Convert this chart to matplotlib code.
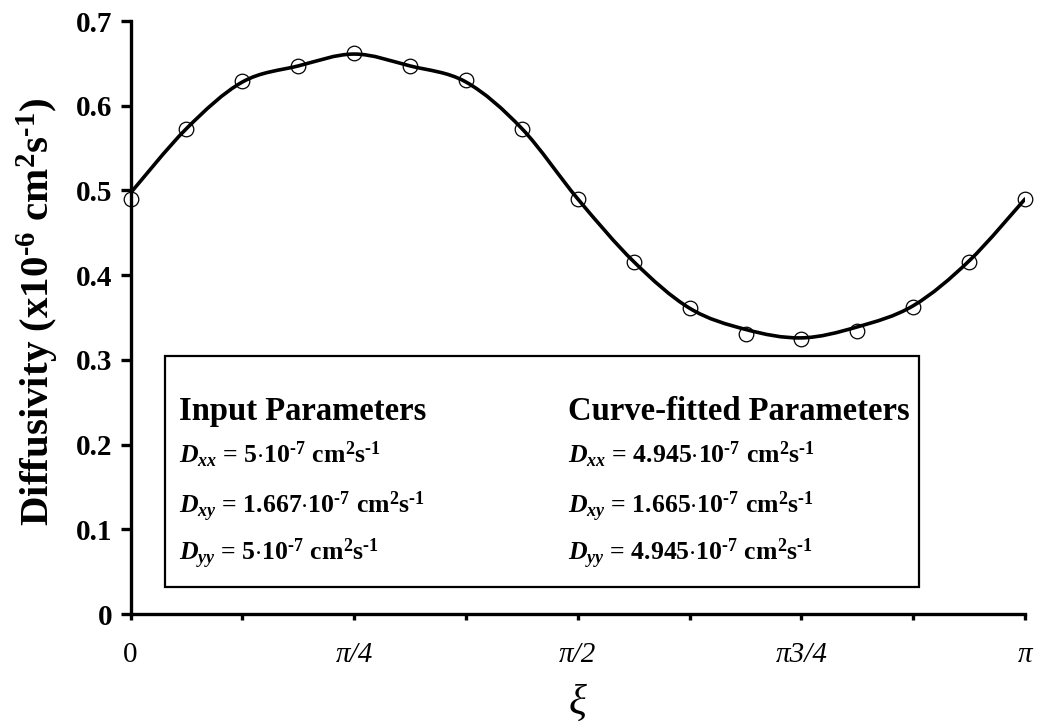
import numpy as np
import matplotlib.pyplot as plt
from matplotlib.path import Path
from matplotlib.patches import PathPatch, Rectangle

plt.rcParams['font.family'] = ['Liberation Serif', 'DejaVu Serif']
plt.rcParams['mathtext.fontset'] = 'custom'
plt.rcParams['mathtext.rm'] = 'Liberation Serif:bold'
plt.rcParams['mathtext.it'] = 'Liberation Serif:bold:italic'
plt.rcParams['mathtext.bf'] = 'Liberation Serif:bold'

# angle steps of pi/16
steps = np.arange(17)
xi = steps * np.pi / 16

# measured diffusivity (x1e-6 cm2/s), open circles
measured = [0.490, 0.573, 0.629, 0.647, 0.662, 0.647, 0.630, 0.573, 0.490,
            0.416, 0.361, 0.331, 0.325, 0.334, 0.362, 0.416, 0.490]
# fitted curve values at the same angles (smoothed line)
fitted = [0.497, 0.573, 0.628, 0.647, 0.661, 0.647, 0.628, 0.573, 0.490,
          0.416, 0.361, 0.336, 0.326, 0.339, 0.364, 0.417, 0.490]

yticks = [0, 0.1, 0.2, 0.3, 0.4, 0.5, 0.6, 0.7]
ytick_labels = ['0', '0.1', '0.2', '0.3', '0.4', '0.5', '0.6', '0.7']
xticks = [0, np.pi / 4, np.pi / 2, 3 * np.pi / 4, np.pi]
xtick_labels = ['0', 'π/4', 'π/2', 'π3/4', 'π']
xticks_minor = [np.pi / 8, 3 * np.pi / 8, 5 * np.pi / 8, 7 * np.pi / 8]

unit = r'$\cdot$10$^{\text{-}7}$ cm$^{2}$s$^{\text{-}1}$'
input_rows = ['$D_{xx}$ = 5' + unit,
              '$D_{xy}$ = 1.667' + unit,
              '$D_{yy}$ = 5' + unit]
fit_rows = ['$D_{xx}$ = 4.945' + unit,
            '$D_{xy}$ = 1.665' + unit,
            '$D_{yy}$ = 4.945' + unit]

fig = plt.figure(figsize=(10.5, 7.25), dpi=100)
ax = fig.add_axes([0.1243, 0.153, 0.852, 0.818])

# smoothed line (bezier through the fitted values, like a spreadsheet "smoothed line")
pts = np.column_stack([xi, fitted])
verts = [pts[0]]
codes = [Path.MOVETO]
n = len(pts)
for i in range(n - 1):
    p0 = pts[i - 1] if i > 0 else pts[i]
    p1 = pts[i]
    p2 = pts[i + 1]
    p3 = pts[i + 2] if i + 2 < n else pts[i + 1]
    c1 = p1 + (p2 - p0) / 6.0
    c2 = p2 - (p3 - p1) / 6.0
    verts += [c1, c2, p2]
    codes += [Path.CURVE4] * 3
ax.add_patch(PathPatch(Path(verts, codes), fill=False, lw=2.6, color='black',
                       capstyle='round', joinstyle='round', zorder=3))

ax.plot(xi, measured, linestyle='none', marker='o', markersize=10.5,
        markerfacecolor='none', markeredgecolor='black', markeredgewidth=0.9,
        zorder=4, clip_on=False)

ax.set_xlim(0, np.pi)
ax.set_ylim(0, 0.7)

for s in ['top', 'right']:
    ax.spines[s].set_visible(False)
for s in ['left', 'bottom']:
    ax.spines[s].set_linewidth(2.4)

ax.set_yticks(yticks)
ax.set_yticklabels(ytick_labels, fontsize=21, fontweight='bold')
ax.set_xticks(xticks)
ax.set_xticks(xticks_minor, minor=True)
ax.set_xticklabels(xtick_labels, fontsize=21)
for lab in ax.get_xticklabels()[1:]:
    lab.set_fontstyle('italic')
ax.tick_params(axis='y', direction='out', length=7, width=2.4, pad=6)
ax.tick_params(axis='x', which='both', direction='out', length=4, width=2.4, pad=16)

ax.set_xlabel('ξ', fontsize=30, fontstyle='italic', labelpad=12)
ax.set_ylabel('Diffusivity (x10$^{\\text{-}6}$ cm$^{2}$s$^{\\text{-}1}$)', fontsize=29.5,
              fontweight='bold')
ax.yaxis.set_label_coords(-0.078, 0.51)

# parameter box
box = Rectangle((0.0391, 0.045), 0.8425, 0.3905, transform=ax.transAxes,
                facecolor='white', edgecolor='black', lw=1.6, zorder=5)
ax.add_patch(box)
ax.text(0.0537, 0.327, 'Input Parameters', transform=ax.transAxes,
        fontsize=23.5, fontweight='bold', zorder=6, va='baseline')
ax.text(0.4892, 0.327, 'Curve-fitted Parameters', transform=ax.transAxes,
        fontsize=23.5, fontweight='bold', zorder=6, va='baseline')
row_y = [0.255, 0.170, 0.091]
for r, yy in zip(input_rows, row_y):
    ax.text(0.0537, yy, r, transform=ax.transAxes, fontsize=18.5,
            fontweight='bold', zorder=6, va='baseline')
for r, yy in zip(fit_rows, row_y):
    ax.text(0.4892, yy, r, transform=ax.transAxes, fontsize=18.5,
            fontweight='bold', zorder=6, va='baseline')

plt.savefig('out.png', dpi=100)
